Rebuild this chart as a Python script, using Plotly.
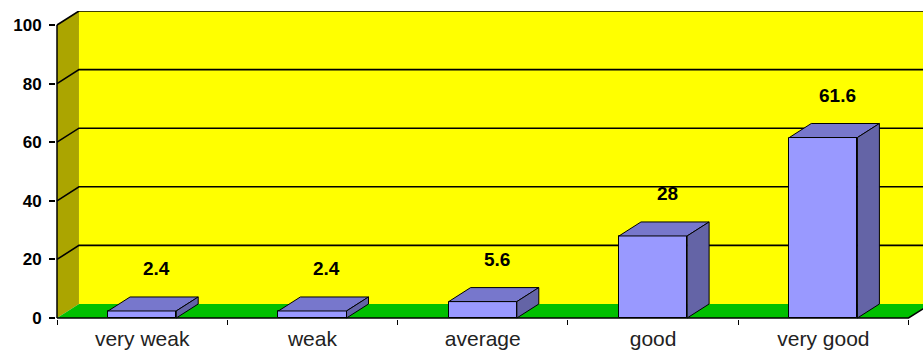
import plotly.graph_objects as go

# ---- data ----
categories = ["very weak", "weak", "average", "good", "very good"]
values = [2.4, 2.4, 5.6, 28, 61.6]
value_labels = ["2.4", "2.4", "5.6", "28", "61.6"]
y_ticks = [0, 20, 40, 60, 80, 100]

# ---- 3D look parameters (style) ----
DX = 0.129      # depth offset in category units
DY = 4.78       # depth offset in y units
BW = 0.4        # bar width
X0 = -0.5
X1 = len(categories) - 0.5
XR = [-0.5059, 4.585]
YR = [-0.34, 104.78]

FRONT = "#9999FF"
TOP = "#7777CC"
SIDE = "#6464A6"
WALL = "#FFFF00"
SIDEWALL = "#ABA500"
FLOOR = "#00C000"

fig = go.Figure()

# front faces of bars
fig.add_trace(go.Bar(
    x=list(range(len(categories))), y=values, width=BW,
    marker=dict(color=FRONT, line=dict(color="black", width=1)),
    hoverinfo="skip", showlegend=False))

# top and side faces
for i, v in enumerate(values):
    xl, xr = i - BW / 2, i + BW / 2
    fig.add_trace(go.Scatter(
        x=[xl, xr, xr + DX, xl + DX, xl], y=[v, v, v + DY, v + DY, v],
        mode="lines", fill="toself", fillcolor=TOP,
        line=dict(color="black", width=1), hoverinfo="skip", showlegend=False))
    fig.add_trace(go.Scatter(
        x=[xr, xr + DX, xr + DX, xr, xr], y=[0, DY, v + DY, v, 0],
        mode="lines", fill="toself", fillcolor=SIDE,
        line=dict(color="black", width=1), hoverinfo="skip", showlegend=False))

shapes = []
# back wall
shapes.append(dict(type="rect", xref="x", yref="y", x0=X0 + DX, x1=XR[1] + 1,
                   y0=DY, y1=100 + DY, fillcolor=WALL, line=dict(width=0), layer="below"))
# left side wall
shapes.append(dict(type="path", xref="x", yref="y",
                   path=f"M {X0},0 L {X0+DX},{DY} L {X0+DX},{100+DY} L {X0},100 Z",
                   fillcolor=SIDEWALL, line=dict(width=0), layer="below"))
# floor
shapes.append(dict(type="path", xref="x", yref="y",
                   path=f"M {X0},0 L {X1},0 L {X1+DX},{DY} L {X0+DX},{DY} Z",
                   fillcolor=FLOOR, line=dict(width=0), layer="below"))
# gridlines (left wall diagonal + back wall horizontal)
for t in y_ticks[1:]:
    shapes.append(dict(type="path", xref="x", yref="y",
                       path=f"M {X0},{t} L {X0+DX},{t+DY} L {XR[1]+1},{t+DY}",
                       line=dict(color="black", width=1.6), layer="below"))
# floor front edge
shapes.append(dict(type="path", xref="x", yref="y",
                   path=f"M {X0},0 L {X1},0 L {X1+DX},{DY}",
                   line=dict(color="black", width=1.5), layer="below"))
# front y axis line
shapes.append(dict(type="line", xref="x", yref="y", x0=X0, x1=X0, y0=0, y1=100,
                   line=dict(color="black", width=1.5), layer="above"))

annotations = []
for i, (v, lab) in enumerate(zip(values, value_labels)):
    annotations.append(dict(x=i + 0.085, y=v + DY, xref="x", yref="y", text=lab,
                            showarrow=False, yshift=28,
                            font=dict(family="Arial", size=19, color="black", weight="bold")))

fig.update_layout(
    width=923, height=350,
    margin=dict(l=56, r=0, t=11, b=31),
    paper_bgcolor="white", plot_bgcolor="white",
    shapes=shapes, annotations=annotations,
    showlegend=False, bargap=0,
    xaxis=dict(range=XR, tickmode="array", tickvals=list(range(len(categories))),
               ticktext=categories, ticks="", showgrid=False, zeroline=False,
               showline=False, ticklabelstandoff=5,
               tickfont=dict(family="Arial", size=21, color="#222222"),
               minor=dict(tickmode="array", tickvals=[X0 + k for k in range(len(categories) + 1)],
                          ticks="outside", ticklen=5, tickcolor="black", tickwidth=1.3,
                          showgrid=False)),
    yaxis=dict(range=YR, tickmode="array", tickvals=y_ticks, ticks="outside",
               ticklen=6, tickcolor="black", tickwidth=1.5, showgrid=False,
               zeroline=False, showline=False, ticklabelstandoff=4,
               tickfont=dict(family="Arial", size=17, color="black", weight="bold")),
)

fig.write_html("out.html")
